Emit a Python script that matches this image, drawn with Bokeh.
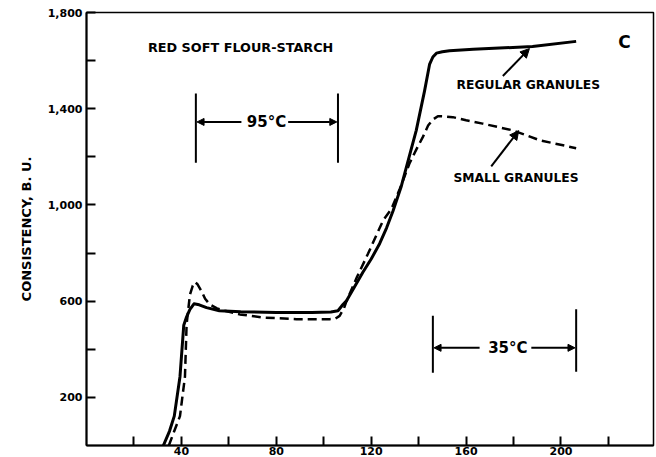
from bokeh.plotting import figure
from bokeh.models import Range1d, FixedTicker, Label, Arrow, NormalHead
from bokeh.embed import file_html
from bokeh.resources import INLINE

# Regular granules (solid)
regular_x = [32.4, 35, 37, 39.4, 41, 42.2, 43.6, 45.3, 47.5, 50.6, 56, 65, 80, 95, 103, 106,
             108.1, 109.6, 113, 116.5, 120, 123.6, 126.5, 129.2, 132.7, 136, 139, 142.5,
             144.6, 146, 147.5, 150, 153, 163, 174, 188, 206.4]
regular_y = [0, 60, 122, 286, 500, 535, 566, 589, 585, 573, 560, 556, 553, 553, 555, 560,
             586, 602, 660, 720, 775, 840, 905, 975, 1078, 1200, 1310, 1474,
             1584, 1615, 1631, 1637, 1641, 1647, 1652, 1659, 1680]

# Small granules (dashed)
small_x = [34.7, 37, 39.4, 41.5, 42.2, 43.6, 44.8, 45.7, 46.8, 48.5, 50, 52, 55, 58.3, 64.6,
           74.4, 88.5, 102.5, 104.8, 106.7, 108.5, 109.6, 114, 118.7, 122, 125, 128.5, 132,
           136.2, 139, 141.8, 144, 146, 148.1, 151, 154.4, 160, 167, 179.7, 191, 206.4]
small_y = [0, 60, 122, 286, 504, 627, 665, 679, 670, 641, 610, 586, 570, 560, 545,
           532, 525, 525, 527, 539, 570, 600, 700, 798, 870, 935, 983, 1065,
           1174, 1230, 1283, 1330, 1355, 1369, 1368, 1365, 1352, 1338, 1310, 1269, 1236]

x_ticks = [20, 40, 60, 80, 100, 120, 140, 160, 180, 200, 220]
x_labeled = [40, 80, 120, 160, 200]
y_ticks = [200, 400, 600, 800, 1000, 1200, 1400, 1600, 1800]
y_labels = {200: "200", 600: "600", 1000: "1,000", 1400: "1,400", 1800: "1,800"}

FONT = "DejaVu Sans"

p = figure(width=656, height=457, output_backend="svg", toolbar_location=None,
           x_range=Range1d(0, 239), y_range=Range1d(0, 1800),
           min_border_left=86, min_border_right=3, min_border_top=12, min_border_bottom=0)
p.background_fill_color = "white"
p.border_fill_color = "white"
p.xgrid.visible = False
p.ygrid.visible = False
p.outline_line_color = "black"
p.outline_line_width = 1.5

for ax in (p.xaxis[0], p.yaxis[0]):
    ax.axis_line_width = 2
    ax.major_tick_line_width = 2
    ax.major_tick_in = 9
    ax.major_tick_out = 0
    ax.minor_tick_line_color = None
    ax.major_label_text_font = FONT
    ax.major_label_text_font_style = "bold"
    ax.major_label_text_font_size = "11px"
    ax.major_label_text_color = "black"

p.xaxis.ticker = FixedTicker(ticks=x_ticks)
p.xaxis.major_label_overrides = {t: (str(t) if t in x_labeled else "") for t in x_ticks}
p.xaxis.major_label_standoff = 1

p.yaxis.ticker = FixedTicker(ticks=y_ticks)
p.yaxis.major_label_overrides = {t: y_labels.get(t, "") for t in y_ticks}
p.yaxis.major_label_standoff = 4
p.yaxis.axis_label = "CONSISTENCY, B. U."
p.yaxis.axis_label_text_font = FONT
p.yaxis.axis_label_text_font_style = "bold"
p.yaxis.axis_label_text_font_size = "13px"
p.yaxis.axis_label_text_color = "black"
p.yaxis.axis_label_standoff = 11

p.line(regular_x, regular_y, line_color="black", line_width=3, line_join="round")
p.line(small_x, small_y, line_color="black", line_width=2.5, line_dash="9 5")

def txt(x, y, s, size, align="left"):
    p.add_layout(Label(x=x, y=y, text=s, text_font=FONT, text_font_style="bold",
                       text_font_size=size, text_align=align, text_baseline="middle",
                       text_color="black"))

txt(25.9, 1655, "RED SOFT FLOUR-STARCH", "12.8px")
txt(156, 1499, "REGULAR GRANULES", "12.3px")
txt(154.7, 1114, "SMALL GRANULES", "12.3px")
txt(226.8, 1679, "C", "17px", "center")
txt(75.9, 1345, "95°C", "15px", "center")
txt(177.6, 406, "35°C", "15px", "center")

# dimension lines
p.segment(x0=[46.1, 106.0, 146.0, 206.4], y0=[1175, 1175, 302, 307],
          x1=[46.1, 106.0, 146.0, 206.4], y1=[1463, 1463, 539, 566],
          line_color="black", line_width=2)

def arrow(xs, ys, xe, ye, size=7):
    p.add_layout(Arrow(end=NormalHead(size=size, fill_color="black", line_color="black"),
                       x_start=xs, y_start=ys, x_end=xe, y_end=ye,
                       line_color="black", line_width=2))

arrow(65.3, 1345, 46.6, 1345)
arrow(85.0, 1345, 105.5, 1345)
arrow(165.7, 406, 146.5, 406)
arrow(187.5, 406, 205.9, 406)
arrow(175.5, 1536, 186.7, 1650, 9)
arrow(170.6, 1160, 182.2, 1309, 9)

open("out.html", "w").write(file_html(p, INLINE))
